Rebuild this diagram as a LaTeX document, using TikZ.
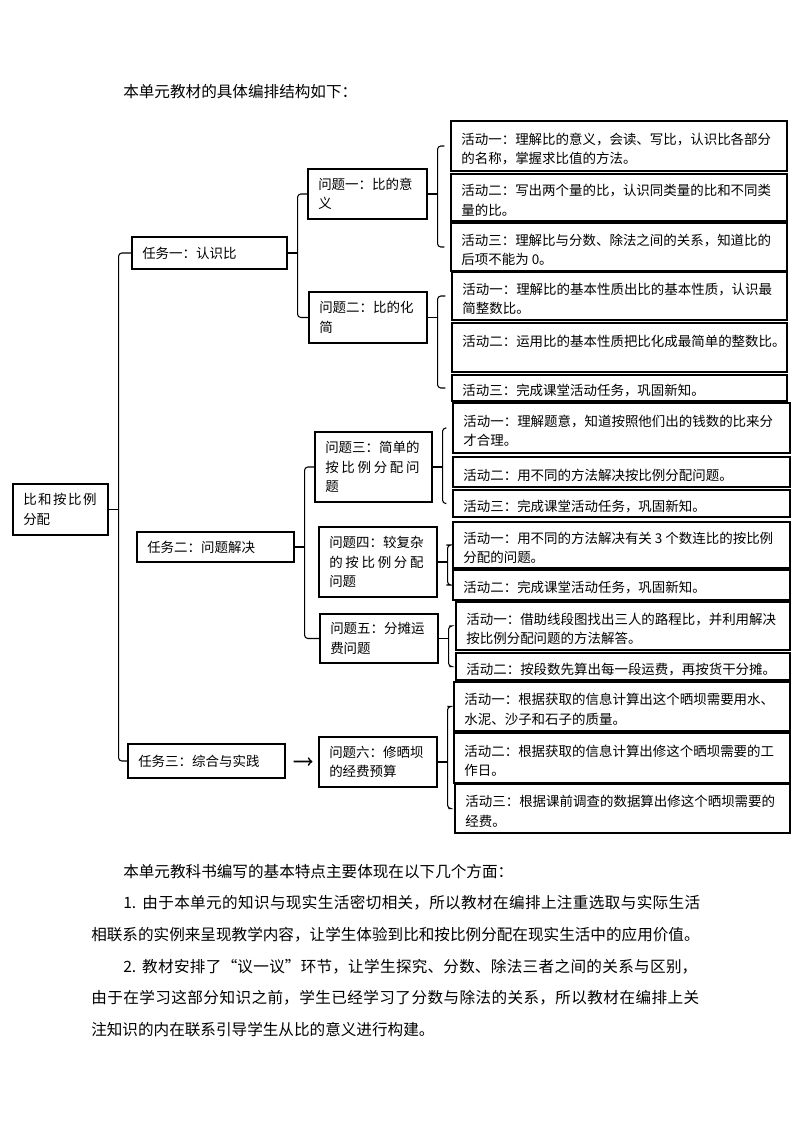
\documentclass[tikz,border=0pt]{standalone}
\usepackage{fontspec}
\setmainfont{Noto Sans CJK SC}
\XeTeXlinebreaklocale "zh"
\XeTeXlinebreakskip=0pt plus 1pt
\usetikzlibrary{fit}

\newcommand{\boxfont}{\fontsize{10.1pt}{14.6pt}\selectfont}
\newcommand{\parafont}{\fontsize{11.7pt}{14pt}\selectfont}
% one line spread out to a given width
\newcommand{\spreadto}[2]{\parbox[b]{#1}{\parfillskip=0pt\relax #2}}

\tikzset{
  blk/.style={draw, line width=0.8pt, inner sep=0pt},
  blktext/.style={inner sep=0pt, anchor=west, align=left, font=\boxfont},
  link/.style={line width=0.8pt, rounded corners=2.5pt},
  paratext/.style={inner sep=0pt, anchor=west, font=\parafont},
}

% parent, first child, last child
\newcommand{\fork}[4][]{%
  \draw[link] (#2.east) -- ++(10,0) coordinate (#2-bar);
  \draw[link,#1] (#3.west) -| (#2-bar) |- (#4.west);
}

\begin{document}
\begin{tikzpicture}[x=0.75pt, y=-0.75pt]
        \useasboundingbox (0,0) rectangle (794,1123);
        \node[paratext] (head) at (123,92) {本单元教材的具体编排结构如下：};

        % units, tasks and questions
        \foreach \n/\xa/\ya/\xb/\yb/\t in {
            root/13/484/108/535/{\spreadto{5.45em}{比和按比例}\\分配},
            t1/132/237/287/269/{任务一：认识比},
            t2/137/532/294/562/{任务二：问题解决},
            t3/128/744/285/778/{任务三：综合与实践},
            q1/308/169/427/219/{问题一：比的意\\义},
            q2/309/292/427/343/{问题二：比的化\\简},
            q3/315/432/432/502/{问题三：简单的\\\spreadto{7em}{按比例分配问}\\题},
            q4/319/527/437/597/{问题四：较复杂\\\spreadto{7em}{的按比例分配}\\问题},
            q5/320/614/438/663/{问题五：分摊运\\费问题},
            q6/319/737/437/787/{问题六：修晒坝\\的经费预算}}
        {
          \node[blk, fit={(\xa,\ya) (\xb,\yb)}] (\n) {};
          \node[blktext] (\n-t) at ([xshift=7.9pt]\n.west) {\t};
        }

        % activities
        \foreach \n/\xa/\ya/\xb/\yb/\t in {
            a11/451/121/787/171/{活动一：理解比的意义，会读、写比，认识比各部分\\的名称，掌握求比值的方法。},
            a12/451/174/787/221/{活动二：写出两个量的比，认识同类量的比和不同类\\量的比。},
            a13/451/223/787/271/{活动三：理解比与分数、除法之间的关系，知道比的\\后项不能为 0。},
            a21/452/272/787/320/{活动一：理解比的基本性质出比的基本性质，认识最\\简整数比。},
            a22/452/323/787/372/{活动二：运用比的基本性质把比化成最简单的整数比。\\~},
            a23/452/375/787/401/{活动三：完成课堂活动任务，巩固新知。},
            a31/453/403/790/453/{活动一：理解题意，知道按照他们出的钱数的比来分\\才合理。},
            a32/453/457/790/487/{活动二：用不同的方法解决按比例分配问题。},
            a33/453/490/790/517/{活动三：完成课堂活动任务，巩固新知。},
            a41/453/522/790/568/{活动一：用不同的方法解决有关 3 个数连比的按比例\\分配的问题。},
            a42/453/570/790/600/{活动二：完成课堂活动任务，巩固新知。},
            a51/456/602/790/650/{活动一：借助线段图找出三人的路程比，并利用解决\\按比例分配问题的方法解答。},
            a52/456/653/790/680/{活动二：按段数先算出每一段运费，再按货干分摊。},
            a61/454/682/790/731/{活动一：根据获取的信息计算出这个晒坝需要用水、\\水泥、沙子和石子的质量。},
            a62/454/733/790/783/{活动二：根据获取的信息计算出修这个晒坝需要的工\\作日。},
            a63/455/784/790/833/{活动三：根据课前调查的数据算出修这个晒坝需要的\\经费。}}
        {
          \node[blk, fit={(\xa,\ya) (\xb,\yb)}] (\n) {};
          \node[blktext] (\n-t) at ([xshift=8pt, yshift=-2.2pt]\n.west) {\t};
        }

        \fork{root}{t1}{t3}
        \fork{t1}{q1}{q2}
        \fork{t2}{q3}{q5}
        \fork[shorten <=4.5pt, shorten >=4.5pt]{q1}{a11}{a13}
        \fork[shorten <=4.5pt, shorten >=4.5pt]{q2}{a21}{a23}
        \fork[shorten <=4.5pt, shorten >=4.5pt]{q3}{a31}{a33}
        \fork[shorten <=4.5pt, shorten >=4.5pt]{q4}{a41}{a42}
        \fork[shorten <=4.5pt, shorten >=4.5pt]{q5}{a51}{a52}
        \fork[shorten <=4.5pt, shorten >=4.5pt]{q6}{a61}{a63}
        \draw[->, line width=1.3pt, shorten <=6pt, shorten >=4.5pt] (t3) -- (q6);

        % text below the chart
        \node[paratext] (p1) at (123,872) {本单元教科书编写的基本特点主要体现在以下几个方面：};
        \node[paratext] (p2) at (123,903) {\spreadto{432.75pt}{1. 由于本单元的知识与现实生活密切相关，所以教材在编排上注重选取与实际生活}};
        \node[paratext] (p3) at (91,935) {相联系的实例来呈现教学内容，让学生体验到比和按比例分配在现实生活中的应用价值。};
        \node[paratext] (p4) at (123,967) {\spreadto{430.5pt}{2. 教材安排了“议一议”环节，让学生探究、分数、除法三者之间的关系与区别，}};
        \node[paratext] (p5) at (91,998) {\spreadto{456pt}{由于在学习这部分知识之前，学生已经学习了分数与除法的关系，所以教材在编排上关}};
        \node[paratext] (p6) at (91,1030) {注知识的内在联系引导学生从比的意义进行构建。};
\end{tikzpicture}
\end{document}
